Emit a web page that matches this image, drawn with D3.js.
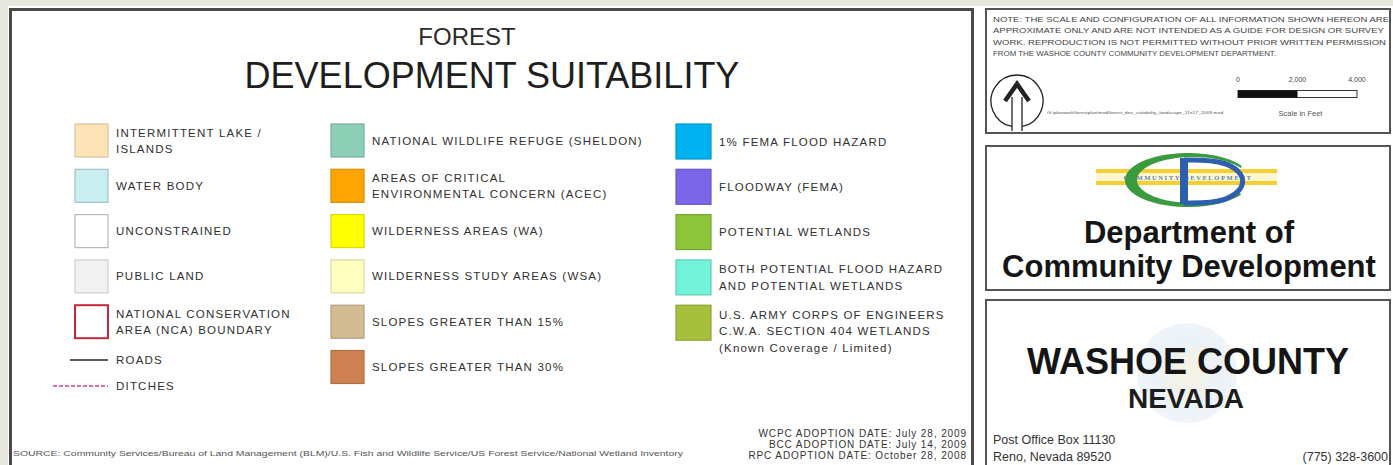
<!DOCTYPE html>
<html><head><meta charset="utf-8">
<script src="https://cdn.jsdelivr.net/npm/d3@7"></script>
<style>
body{margin:0;background:#e7e7e0;}
svg{display:block;font-family:"Liberation Sans",Arial,sans-serif;}
</style>
</head><body>
<svg id="c" width="1393" height="465"></svg>
<script>
// ---------- data ----------
const titleTop = "FOREST";
const titleMain = "DEVELOPMENT SUITABILITY";

const col1Labels = [["INTERMITTENT LAKE /","ISLANDS"],["WATER BODY"],["UNCONSTRAINED"],["PUBLIC LAND"],["NATIONAL CONSERVATION","AREA (NCA) BOUNDARY"]];
const col1Colors = ["#fde3b6","#c9eef0","#ffffff","#f1f1f1","#ffffff"];
const col1Strokes = ["#d8c29a","#9fc4c8","#b8b8b8","#cfcfcf","#c4283a"];

const col2Labels = [["NATIONAL WILDLIFE REFUGE (SHELDON)"],["AREAS OF CRITICAL","ENVIRONMENTAL CONCERN (ACEC)"],["WILDERNESS AREAS (WA)"],["WILDERNESS STUDY AREAS (WSA)"],["SLOPES GREATER THAN 15%"],["SLOPES GREATER THAN 30%"]];
const col2Colors = ["#8ccfb6","#ffa400","#ffff00","#ffffbf","#d3bb92","#cf8153"];

const col3Labels = [["1% FEMA FLOOD HAZARD"],["FLOODWAY (FEMA)"],["POTENTIAL WETLANDS"],["BOTH POTENTIAL FLOOD HAZARD","AND POTENTIAL WETLANDS"],["U.S. ARMY CORPS OF ENGINEERS","C.W.A. SECTION 404 WETLANDS","(Known Coverage / Limited)"]];
const col3Colors = ["#00b2f0","#7b66ea","#8cc43a","#72f2d8","#a6bf3c"];

const lineLabels = ["ROADS","DITCHES"];
const lineColors = ["#222222","#d0408a"];

const adoptionDates = ["WCPC ADOPTION DATE:  July 28, 2009","BCC ADOPTION DATE:  July 14, 2009","RPC ADOPTION DATE: October 28, 2008"];
const sourceText = "SOURCE:  Community Services/Bureau of Land Management (BLM)/U.S. Fish and Wildlife Service/US Forest Service/National Wetland Inventory";

const noteLines = ["NOTE:  THE SCALE AND CONFIGURATION OF ALL INFORMATION SHOWN HEREON ARE","APPROXIMATE ONLY AND ARE NOT INTENDED AS A GUIDE FOR DESIGN OR SURVEY","WORK.   REPRODUCTION IS NOT PERMITTED WITHOUT PRIOR WRITTEN PERMISSION","FROM THE WASHOE COUNTY COMMUNITY DEVELOPMENT DEPARTMENT."];
const scaleTicks = [0, 2000, 4000];
const scaleTickLabels = ["0","2,000","4,000"];
const scaleUnit = "Scale in Feet";
const filePath = "G:\\planwork\\forestplan\\mxd\\forest_dev_suitability_landscape_11x17_2009.mxd";

const deptLines = ["Department of","Community Development"];
const logoText = "COMMUNITY DEVELOPMENT";
const countyLines = ["WASHOE COUNTY","NEVADA"];
const addressLines = ["Post Office Box 11130","Reno, Nevada  89520"];
const phone = "(775) 328-3600";

// ---------- layout ----------
const svg = d3.select("#c");
const W = 1393, H = 465;
svg.append("rect").attr("x",8).attr("y",6).attr("width",W).attr("height",H).attr("fill","#ffffff");

// main panel
svg.append("rect").attr("x",10.5).attr("y",9.5).attr("width",962).attr("height",470)
  .attr("fill","#fff").attr("stroke","#4a4a4a").attr("stroke-width",3);

// right panels
const panelY = [[9,133],[146,290],[300,480]];
svg.selectAll("rect.panel").data(panelY).join("rect").attr("class","panel")
  .attr("x",986).attr("y",d=>d[0]).attr("width",404).attr("height",d=>d[1]-d[0])
  .attr("fill","#fff").attr("stroke","#555").attr("stroke-width",2);

// titles
svg.append("text").attr("x",467).attr("y",45).attr("text-anchor","middle")
  .attr("font-size",24).attr("fill","#2b2b2b").text(titleTop);
svg.append("text").attr("x",492).attr("y",88).attr("text-anchor","middle")
  .attr("font-size",36).attr("fill","#1e1e1e").text(titleMain);

// legend columns
const rowY = d3.scaleLinear().domain([0,1]).range([124,169.3]);
const colX = d3.scaleOrdinal().domain([0,1,2]).range([75,331,676]);
const SW = 33;

function drawColumn(ci, labels, colors, strokes, size){
  const g = svg.append("g");
  const items = labels.map((l,i)=>({l, c:colors[i], s:strokes? strokes[i] : d3.color(colors[i]).darker(0.45).formatHex(), i}));
  g.selectAll("rect").data(items).join("rect")
    .attr("x",colX(ci)).attr("y",d=>rowY(d.i)).attr("width",size).attr("height",size)
    .attr("fill",d=>d.c).attr("stroke",d=>d.s)
    .attr("stroke-width",d=> (ci===0 && d.i===4) ? 2 : 1.2);
  const t = g.selectAll("text").data(items).join("text")
    .attr("font-size",11.5).attr("fill","#303030").attr("letter-spacing",1.2);
  t.each(function(d){
    const cy = rowY(d.i)+size/2;
    const y0 = d.l.length>1 ? cy-8 : cy;
    d3.select(this).selectAll("tspan").data(d.l).join("tspan")
      .attr("x",colX(ci)+size+8).attr("y",(s,j)=>y0+j*16.5+4).text(s=>s);
  });
}
drawColumn(0,col1Labels,col1Colors,col1Strokes,SW);
drawColumn(1,col2Labels,col2Colors,null,SW);
drawColumn(2,col3Labels,col3Colors,null,35);

// roads / ditches
const lineY = d3.scaleLinear().domain([0,1]).range([360,386]);
const lineStart = [70,53];
lineLabels.forEach((lab,i)=>{
  svg.append("line").attr("x1",lineStart[i]).attr("x2",108).attr("y1",lineY(i)).attr("y2",lineY(i))
    .attr("stroke",lineColors[i]).attr("stroke-width",i?1.3:1.3)
    .attr("stroke-dasharray",i?"4,2":null);
  svg.append("text").attr("x",116).attr("y",lineY(i)+4).attr("font-size",11.5)
    .attr("fill","#303030").attr("letter-spacing",1.2).text(lab);
});

// adoption dates
svg.selectAll("text.date").data(adoptionDates).join("text").attr("class","date")
  .attr("x",967).attr("y",(d,i)=>437+i*11).attr("text-anchor","end")
  .attr("font-size",10).attr("letter-spacing",0.9).attr("fill","#333").text(d=>d);

// source
svg.append("text").attr("x",13).attr("y",456).attr("font-size",6.8).attr("fill","#555")
  .attr("textLength",670).attr("lengthAdjust","spacingAndGlyphs").text(sourceText);

// ---------- panel 1 ----------
const noteW = [396,391,393,283];
svg.selectAll("text.note").data(noteLines).join("text").attr("class","note")
  .attr("x",993).attr("y",(d,i)=>22+i*11.3).attr("font-size",7.5).attr("fill","#444")
  .attr("textLength",(d,i)=>noteW[i]).attr("lengthAdjust","spacingAndGlyphs").text(d=>d);

// north arrow
const na = svg.append("g").attr("fill","none").attr("stroke","#222");
const arc = d3.arc().innerRadius(26).outerRadius(26).startAngle(Math.PI+0.2).endAngle(Math.PI*3-0.2);
na.append("path").attr("d",arc()).attr("transform","translate(1017,101)").attr("stroke-width",1.3);
na.append("line").attr("x1",1012).attr("x2",1012).attr("y1",97).attr("y2",131).attr("stroke-width",1.3);
na.append("line").attr("x1",1022).attr("x2",1022).attr("y1",97).attr("y2",131).attr("stroke-width",1.3);
na.append("path").attr("d",d3.line()([[1005,101],[1017,84],[1029,101]])).attr("stroke-width",4.5)
  .attr("stroke-linejoin","miter");

svg.append("text").attr("x",1047).attr("y",114).attr("font-size",4.2).attr("fill","#555")
  .attr("textLength",176).attr("lengthAdjust","spacingAndGlyphs").text(filePath);

// scale bar
const sx = d3.scaleLinear().domain([0,4000]).range([1238,1357]);
svg.append("rect").attr("x",sx(0)).attr("y",90.5).attr("width",sx(4000)-sx(0)).attr("height",7)
  .attr("fill","#fff").attr("stroke","#333").attr("stroke-width",1);
svg.append("rect").attr("x",sx(0)).attr("y",90.5).attr("width",sx(2000)-sx(0)).attr("height",7).attr("fill","#111");
svg.selectAll("text.tick").data(scaleTicks).join("text").attr("class","tick")
  .attr("x",d=>sx(d)).attr("y",82).attr("text-anchor","middle").attr("font-size",7).attr("fill","#444")
  .text((d,i)=>scaleTickLabels[i]);
svg.append("text").attr("x",sx(2000)+3).attr("y",116).attr("text-anchor","middle").attr("font-size",7.5)
  .attr("fill","#555").text(scaleUnit);

// ---------- panel 2: logo ----------
const logo = svg.append("g");
logo.append("rect").attr("x",1096).attr("y",169).attr("width",181).attr("height",16).attr("fill","#f3cf33");
logo.append("rect").attr("x",1096).attr("y",173).attr("width",181).attr("height",8).attr("fill","#fff6cf");
logo.append("text").attr("x",1188).attr("y",180).attr("text-anchor","middle").attr("font-size",6.5)
  .attr("font-weight","bold").attr("font-family","Liberation Serif,serif").attr("fill","#5a86b8")
  .attr("letter-spacing",1.6).text(logoText);
// green C: crescent between two ellipses, thicker on the left
const angs = d3.range(0.55, 2*Math.PI-0.55+0.001, 0.04);
const outer = angs.map(a=>[1188+63*Math.cos(a), 180-27*Math.sin(a)]);
const inner = angs.slice().reverse().map(a=>[1193+56*Math.cos(a), 180-23*Math.sin(a)]);
logo.append("path").attr("d",d3.line()(outer.concat(inner))+"Z").attr("fill","#3a9a3e");
logo.append("rect").attr("x",1180).attr("y",158).attr("width",8).attr("height",46).attr("fill","#2d5fae");
logo.append("path").attr("d",d3.line().curve(d3.curveBasis)([[1184,160],[1228,160],[1250,181],[1228,203],[1184,203]]))
  .attr("fill","none").attr("stroke","#2d5fae").attr("stroke-width",5);

svg.selectAll("text.dept").data(deptLines).join("text").attr("class","dept")
  .attr("x",1189).attr("y",(d,i)=>243+i*34).attr("text-anchor","middle")
  .attr("font-size",31).attr("font-weight","bold").attr("fill","#151515").text(d=>d);

// ---------- panel 3 ----------
const grad = svg.append("defs").append("radialGradient").attr("id","seal");
grad.append("stop").attr("offset","0%").attr("stop-color","#f4efd8");
grad.append("stop").attr("offset","70%").attr("stop-color","#e6eef6");
grad.append("stop").attr("offset","100%").attr("stop-color","#edf2f7");
svg.append("circle").attr("cx",1187).attr("cy",373).attr("r",50).attr("fill","url(#seal)").attr("opacity",0.8);

svg.append("text").attr("x",1188).attr("y",374).attr("text-anchor","middle")
  .attr("font-size",36).attr("font-weight","bold").attr("fill","#151515").text(countyLines[0]);
svg.append("text").attr("x",1186).attr("y",408).attr("text-anchor","middle")
  .attr("font-size",28).attr("font-weight","bold").attr("fill","#1c1c1c").text(countyLines[1]);
svg.selectAll("text.addr").data(addressLines).join("text").attr("class","addr")
  .attr("x",993).attr("y",(d,i)=>444+i*17).attr("font-size",12.5).attr("fill","#333").text(d=>d);
svg.append("text").attr("x",1388).attr("y",461).attr("text-anchor","end").attr("font-size",12.5)
  .attr("fill","#333").text(phone);
</script>
</body></html>
